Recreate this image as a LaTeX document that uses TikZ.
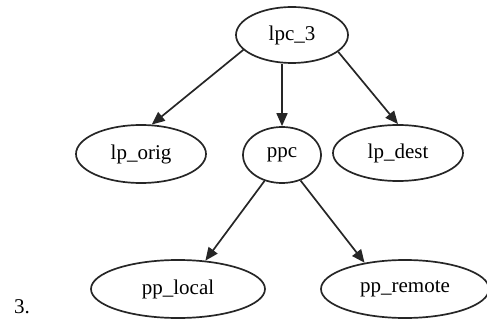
\documentclass[tikz,border=0pt]{standalone}
\usepackage{fontspec}
\setmainfont{Liberation Serif}
\usetikzlibrary{shapes.geometric,arrows.meta}
\begin{document}
\begin{tikzpicture}[x=1pt,y=-1pt,
  nd/.style={ellipse,draw=black!85,line width=1.7pt,inner sep=0pt,font=\fontsize{21}{23}\selectfont},
  arr/.style={draw=black!85,line width=1.7pt,-{Triangle[length=13pt,width=11pt]}}]
\useasboundingbox (0,0) rectangle (487,323);
\node[nd,minimum width=112,minimum height=56] (lpc3) at (292,35) {lpc\_3};
\node[nd,minimum width=130,minimum height=58] (lporig) at (141,154) {lp\_orig};
\node[nd,minimum width=78,minimum height=56] (ppc) at (282,155) {ppc};
\node[nd,minimum width=130,minimum height=56] (lpdest) at (398,153) {lp\_dest};
\node[nd,minimum width=174,minimum height=58] (pplocal) at (178,289) {pp\_local};
\node[nd,minimum width=168,minimum height=58] (ppremote) at (405,289) {pp\_remote};
\node[font=\fontsize{21}{23}\selectfont] (num) at (22,307) {3.};
\draw[arr] (lpc3.197) -- (lporig.70);
\draw[arr] (lpc3.south -| ppc.north) -- (ppc.north);
\draw[arr] (lpc3.-20) -- (lpdest.north);
\draw[arr] (ppc.236) -- (pplocal.46);
\draw[arr] (ppc.306) -- (ppremote.147);
\end{tikzpicture}
\end{document}
